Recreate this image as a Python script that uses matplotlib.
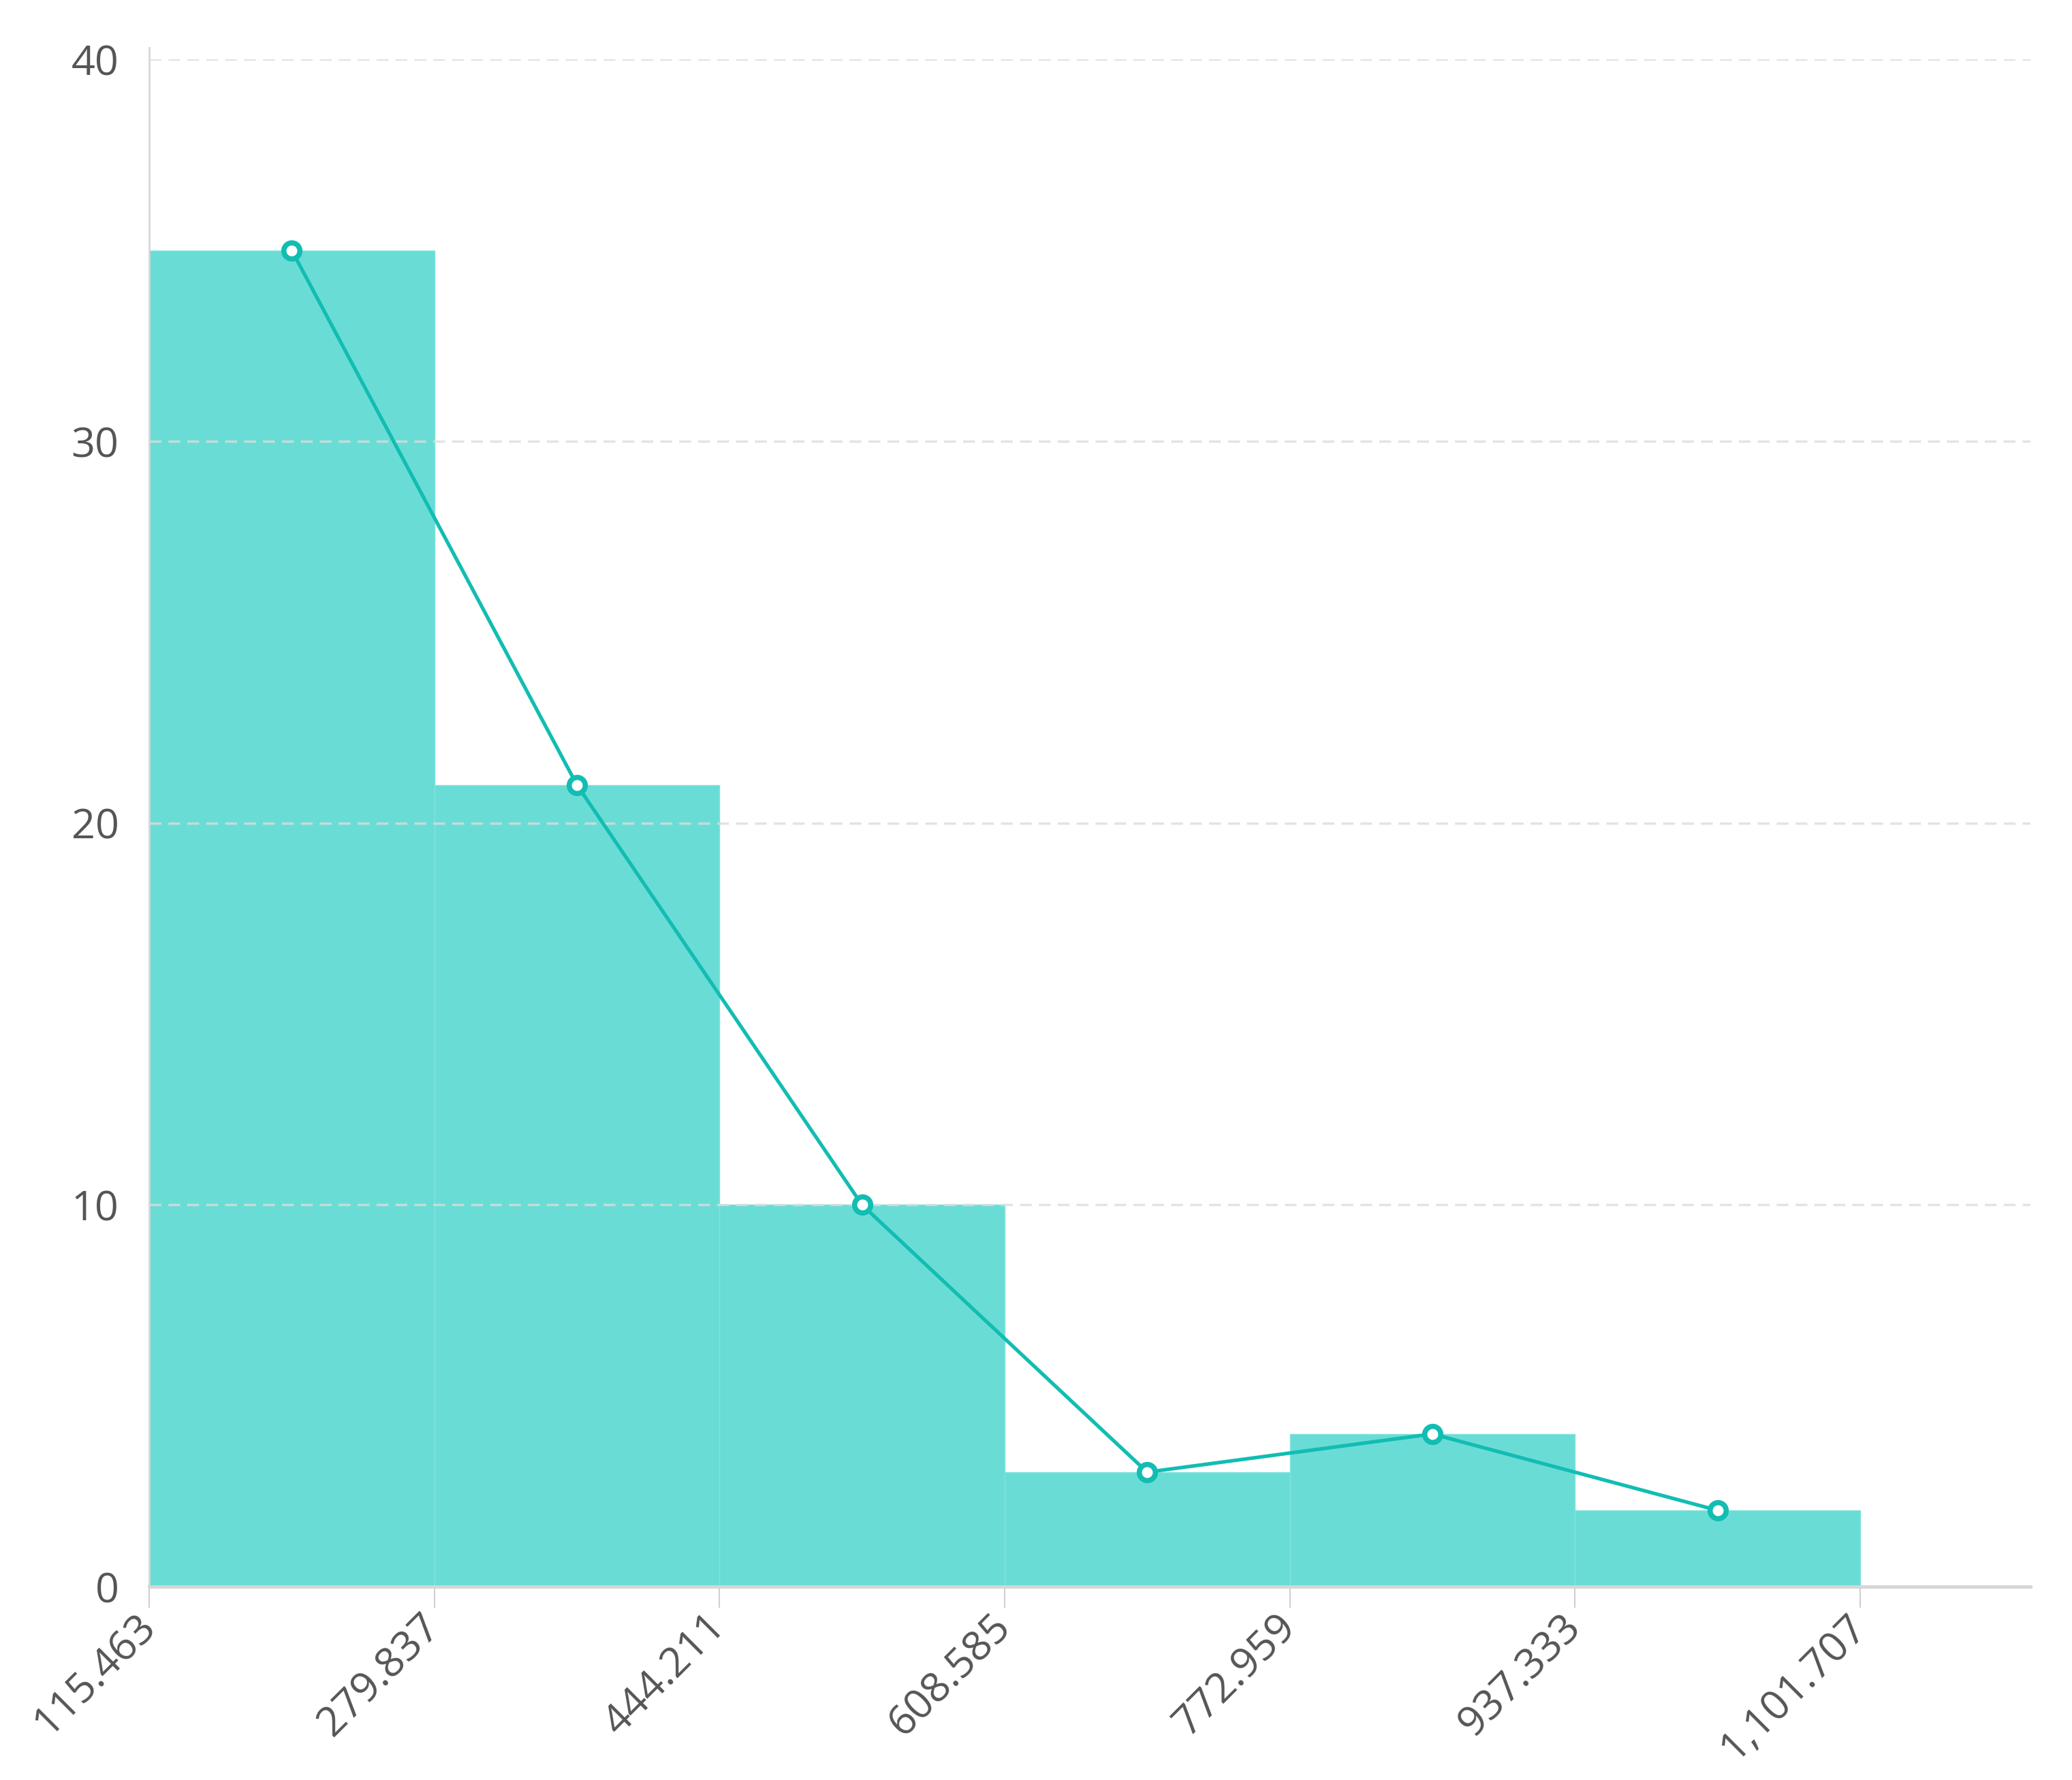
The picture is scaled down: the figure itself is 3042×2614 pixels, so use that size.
import matplotlib.pyplot as plt
import numpy as np

# bin edges and counts
bin_edges = [115.463, 279.837, 444.211, 608.585, 772.959, 937.333, 1101.707]
counts = [35, 21, 10, 3, 4, 2]
tick_labels = ["115.463", "279.837", "444.211", "608.585", "772.959", "937.333", "1,101.707"]
y_ticks = [0, 10, 20, 30, 40]

bar_color = "#6adcd6"
line_color = "#12bdb2"
text_color = "#555555"

plt.rcParams["font.family"] = ["Open Sans", "DejaVu Sans"]

fig = plt.figure(figsize=(30.42, 26.14), dpi=100)
ax = fig.add_axes([0.072, 0.1086, 0.908, 0.858])

edges = np.array(bin_edges)
widths = np.diff(edges)
centers = edges[:-1] + widths / 2

ax.bar(edges[:-1], counts, width=widths, align="edge", color=bar_color,
       edgecolor="#7fe3de", linewidth=1.0, zorder=2)
ax.plot(centers, counts, color=line_color, lw=3.8, marker="o", markersize=17,
        markerfacecolor="white", markeredgecolor=line_color, markeredgewidth=5.5,
        zorder=4)

for y in y_ticks[1:]:
    ax.axhline(y, color="#dddddd", lw=2.5, ls=(0, (5, 3)), zorder=3, alpha=0.8)

ax.set_xlim(115.463, 1200)
ax.set_ylim(0, 40)
ax.set_yticks(y_ticks)
ax.set_yticklabels([str(v) for v in y_ticks])
ax.set_xticks(bin_edges)
ax.set_xticklabels(tick_labels, rotation=45, ha="right", va="center",
                   rotation_mode="anchor")

ax.tick_params(axis="y", length=0, pad=32, labelsize=44, labelcolor=text_color)
ax.tick_params(axis="x", length=22, width=1.5, color="#d0d0d0", pad=14,
               labelsize=44, labelcolor=text_color)

for s in ["top", "right"]:
    ax.spines[s].set_visible(False)
ax.spines["left"].set_color("#d6d6d6")
ax.spines["left"].set_linewidth(2)
ax.spines["bottom"].set_color("#d6d6d6")
ax.spines["bottom"].set_linewidth(3.5)
ax.spines["left"].set_bounds(0, 40.3)

fig.savefig("out.png", dpi=100, facecolor="white")
